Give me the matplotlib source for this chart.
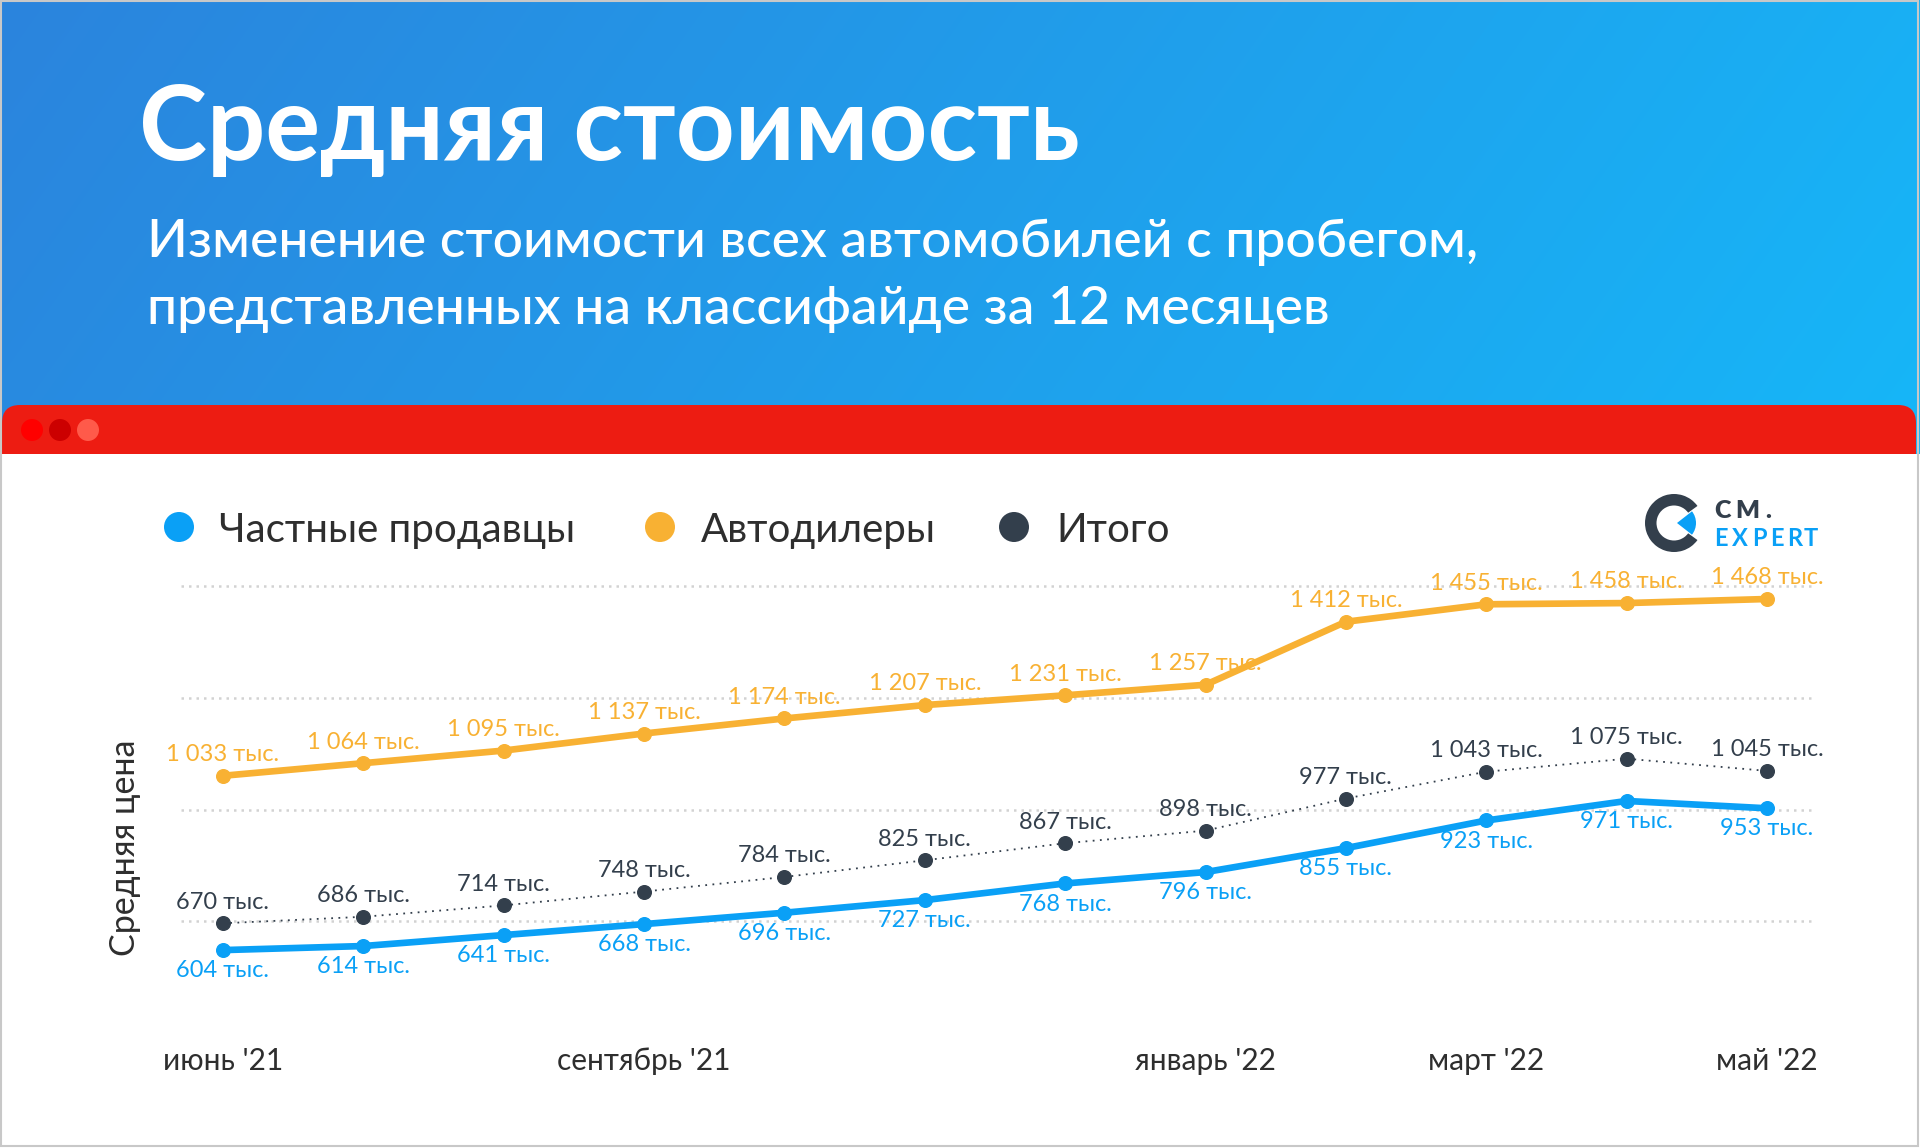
#!/usr/bin/env python3
"""Средняя стоимость автомобилей с пробегом: частные продавцы, автодилеры, итого."""

import numpy as np
import matplotlib

matplotlib.use("Agg")
import matplotlib.pyplot as plt
from matplotlib import patches

plt.rcParams["font.family"] = ["Lato", "DejaVu Sans"]

# --- data (тыс. руб.) ---
MONTHS = [
    "июнь '21", "июль '21", "август '21", "сентябрь '21", "октябрь '21",
    "ноябрь '21", "декабрь '21", "январь '22", "февраль '22", "март '22",
    "апрель '22", "май '22",
]
SHOWN_TICKS = [0, 3, 7, 9, 11]
PRIVATE = [604, 614, 641, 668, 696, 727, 768, 796, 855, 923, 971, 953]
DEALERS = [1033, 1064, 1095, 1137, 1174, 1207, 1231, 1257, 1412, 1455, 1458, 1468]
TOTAL = [670, 686, 714, 748, 784, 825, 867, 898, 977, 1043, 1075, 1045]
SERIES_NAMES = ["Частные продавцы", "Автодилеры", "Итого"]
GRID_VALUES = [675, 950, 1225, 1500]
Y_RANGE = (400, 1500)

BLUE = "#0AA0F6"
ORANGE = "#F8B133"
DARK = "#333F4C"
TEXT = "#2E2E2E"
RED = "#ED1C12"

W, H = 1920, 1148


def fmt(v):
    return f"{v:,}".replace(",", " ") + " тыс."


fig = plt.figure(figsize=(W / 100, H / 100), dpi=100)
fig.patch.set_facecolor("white")

# background layer in pixel coordinates
bg = fig.add_axes([0, 0, 1, 1], zorder=0)
bg.set_xlim(0, W)
bg.set_ylim(H, 0)
bg.axis("off")

# header gradient
gh = 480
xx, yy = np.meshgrid(np.linspace(0, 1, 480), np.linspace(0, 1, 120))
t = np.clip(0.85 * xx + 0.15 * yy, 0, 1)[..., None]
c0 = np.array([43, 132, 221]) / 255
c1 = np.array([22, 183, 248]) / 255
grad = c0 + (c1 - c0) * t
bg.imshow(grad, extent=[0, W, gh, 0], aspect="auto", zorder=0, interpolation="bilinear")

# red "window" bar
bar = patches.FancyBboxPatch(
    (2, 405), W - 6, 90, boxstyle="round,pad=0,rounding_size=18",
    fc=RED, ec="none", zorder=1,
)
bg.add_patch(bar)
bg.add_patch(patches.Rectangle((0, 454), W, H - 454, fc="white", ec="none", zorder=2))
for cx, col in zip([32, 60, 88], ["#FF0000", "#CC0000", "#FF5A4A"]):
    bg.add_patch(patches.Circle((cx, 430), 11, fc=col, ec="none", zorder=3))

# titles
bg.text(139, 160, "Средняя стоимость", color="white", fontsize=74,
        fontweight="bold", va="baseline", zorder=4)
bg.text(147, 257, "Изменение стоимости всех автомобилей с пробегом,",
        color="white", fontsize=38.5, fontweight="medium", va="baseline", zorder=4)
bg.text(147, 324, "представленных на классифайде за 12 месяцев",
        color="white", fontsize=38.5, fontweight="medium", va="baseline", zorder=4)

# legend
for (cx, tx), name, col in zip([(179, 219), (660, 701), (1014, 1056)],
                               SERIES_NAMES, [BLUE, ORANGE, DARK]):
    bg.add_patch(patches.Circle((cx, 527), 15, fc=col, ec="none", zorder=3))
    bg.text(tx, 542, name, color=TEXT, fontsize=29, va="baseline", zorder=4)

# logo
bg.add_patch(patches.Wedge((1674, 523), 29, 36, 324, width=11.5, fc=DARK, ec="none", zorder=3))
bg.add_patch(patches.Wedge((1677, 523), 19, -38, 38, fc=BLUE, ec="none", zorder=3))
for ch, x in zip("CM.", [1714, 1735, 1765]):
    bg.text(x, 518, ch, color=DARK, fontsize=18, fontweight="heavy", va="baseline", zorder=4)
for ch, x in zip("EXPERT", [1714, 1732, 1752, 1770, 1787, 1804]):
    bg.text(x, 546, ch, color=BLUE, fontsize=17, fontweight="bold", va="baseline", zorder=4)

# outer border
bg.add_patch(patches.Rectangle((1, 1), W - 3, H - 3, fill=False, ec="#C8C8C8", lw=1.5, zorder=10))

# --- chart ---
left, right, top, bottom = 181, 1812, 586, 1033
ax = fig.add_axes([left / W, 1 - bottom / H, (right - left) / W, (bottom - top) / H], zorder=1)
ax.patch.set_alpha(0)
step = (1767 - 223) / 11
ax.set_xlim((left - 223) / step, 11 + (right - 1767) / step)
ax.set_ylim(*Y_RANGE)
for s in ax.spines.values():
    s.set_visible(False)

for g in GRID_VALUES:
    ax.axhline(g, color="#D2D2D2", lw=1.8, ls=(0, (1, 2)), zorder=1, clip_on=False)

x = np.arange(len(MONTHS))
ax.plot(x, DEALERS, color=ORANGE, lw=4.8, marker="o", ms=9.8,
        solid_capstyle="round", solid_joinstyle="round", zorder=4)
ax.plot(x, PRIVATE, color=BLUE, lw=4.8, marker="o", ms=9.8,
        solid_capstyle="round", solid_joinstyle="round", zorder=4)
ax.plot(x, TOTAL, color=DARK, lw=1.3, ls=(0, (1, 3)), marker="o", ms=9.8, zorder=4)

for xi, v in zip(x, DEALERS):
    ax.annotate(fmt(v), (xi, v), xytext=(0, 10.5), textcoords="offset points",
                ha="center", va="baseline", fontsize=17, color=ORANGE, zorder=2)
for xi, v in zip(x, TOTAL):
    ax.annotate(fmt(v), (xi, v), xytext=(0, 10.5), textcoords="offset points",
                ha="center", va="baseline", fontsize=17, color=DARK, zorder=2)
for xi, v in zip(x, PRIVATE):
    ax.annotate(fmt(v), (xi, v), xytext=(0, -19.5), textcoords="offset points",
                ha="center", va="baseline", fontsize=17, color=BLUE, zorder=2)

ax.set_xticks(SHOWN_TICKS)
ax.set_xticklabels([MONTHS[i] for i in SHOWN_TICKS], fontsize=21.5, color=TEXT)
ax.tick_params(axis="x", length=0, pad=10)
ax.set_yticks([])
ax.set_ylabel("Средняя цена", fontsize=24.5, color=TEXT)
ax.yaxis.set_label_coords((141 - left) / (right - left), (bottom - 848) / (bottom - top))

fig.savefig("out.png", dpi=100)
